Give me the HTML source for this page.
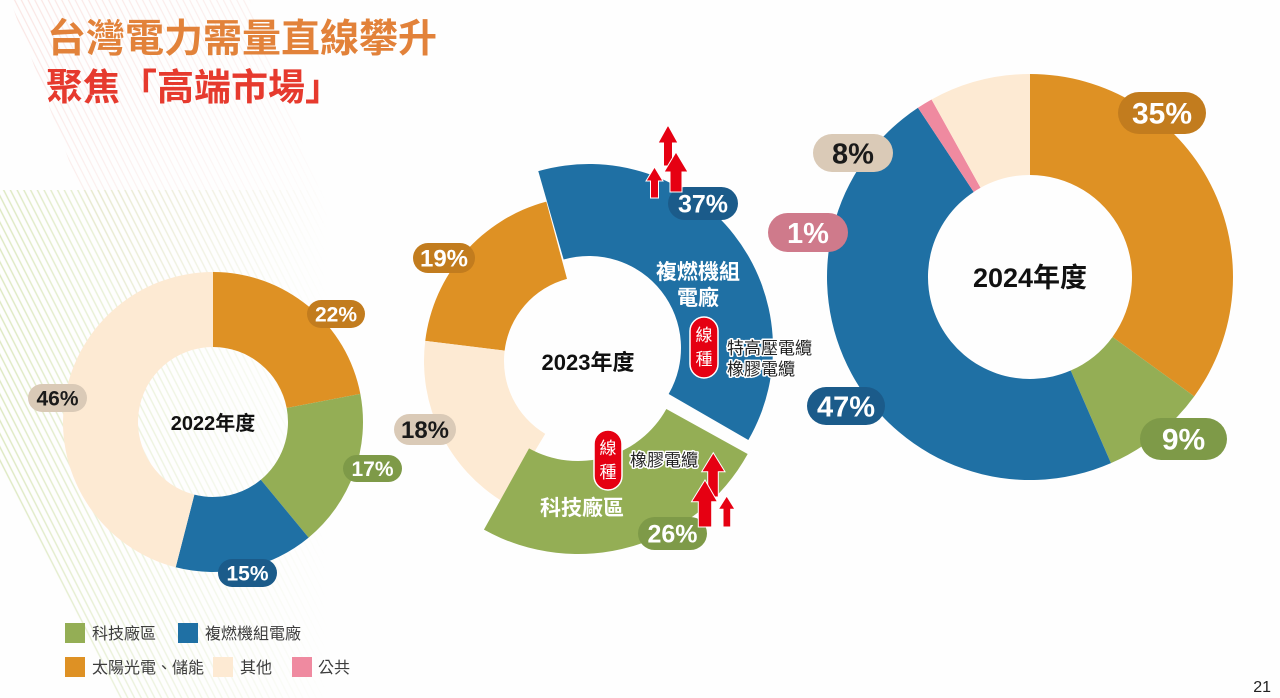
<!DOCTYPE html>
<html>
<head>
<meta charset="utf-8">
<style>
html,body{margin:0;padding:0;background:#ffffff;}
body{width:1280px;height:698px;overflow:hidden;}
svg{display:block;}
text{font-family:"Liberation Sans","Noto Sans CJK TC",sans-serif;}
</style>
</head>
<body>
<svg width="1280" height="698" viewBox="0 0 1280 698" xmlns="http://www.w3.org/2000/svg">
<defs>
  <pattern id="pg" width="6" height="6" patternUnits="userSpaceOnUse" patternTransform="rotate(-27)">
    <line x1="1" y1="-2" x2="1" y2="8" stroke="#d6e4b4" stroke-width="1.4"/>
  </pattern>
  <pattern id="pp" width="6" height="6" patternUnits="userSpaceOnUse" patternTransform="rotate(-27)">
    <line x1="1" y1="-2" x2="1" y2="8" stroke="#f8dcd8" stroke-width="1.2"/>
  </pattern>
  <linearGradient id="gfade" x1="0" y1="0" x2="1" y2="0">
    <stop offset="0" stop-color="#fff" stop-opacity="0.85"/>
    <stop offset="0.35" stop-color="#fff" stop-opacity="0.5"/>
    <stop offset="1" stop-color="#fff" stop-opacity="0"/>
  </linearGradient>
  <linearGradient id="pfade" x1="0" y1="0" x2="1" y2="0.6">
    <stop offset="0" stop-color="#fff" stop-opacity="0.75"/>
    <stop offset="0.5" stop-color="#fff" stop-opacity="0.4"/>
    <stop offset="1" stop-color="#fff" stop-opacity="0"/>
  </linearGradient>
  <mask id="mg"><polygon points="0,190 330,190 330,698 117,698 0,470" fill="url(#gfade)"/></mask>
  <mask id="mp"><polygon points="10,0 250,0 360,300 120,300" fill="url(#pfade)"/></mask>
</defs>

<!-- background stripes -->
<rect x="0" y="0" width="1280" height="698" fill="#fefefe"/>
<rect x="0" y="0" width="460" height="300" fill="url(#pp)" mask="url(#mp)"/>
<rect x="0" y="190" width="330" height="508" fill="url(#pg)" mask="url(#mg)"/>

<!-- Title -->
<text x="47" y="52" font-size="39" font-weight="bold" fill="#e2823a">台灣電力需量直線攀升</text>
<text x="46" y="100" font-size="37" font-weight="bold" fill="#e63a2e">聚焦「高端市場」</text>

<!-- ===== 2022 donut ===== -->
<path d="M213,272 A150,150 0 0 1 360.34,393.89 L286.67,407.95 A75,75 0 0 0 213,347 Z" fill="#de9124"/>
<path d="M360.34,393.89 A150,150 0 0 1 308.61,537.58 L260.81,479.79 A75,75 0 0 0 286.67,407.95 Z" fill="#94ae55"/>
<path d="M308.61,537.58 A150,150 0 0 1 175.70,567.29 L194.35,494.64 A75,75 0 0 0 260.81,479.79 Z" fill="#1f70a4"/>
<path d="M175.70,567.29 A150,150 0 0 1 213,272 L213,347 A75,75 0 0 0 194.35,494.64 Z" fill="#fdead3"/>
<text x="213" y="430" font-size="20" font-weight="bold" fill="#111" text-anchor="middle">2022年度</text>

<rect x="307" y="300" width="58" height="28" rx="14" fill="#c27c1e"/>
<text x="336" y="321.5" font-size="21" font-weight="bold" fill="#fff" text-anchor="middle">22%</text>
<rect x="343" y="455" width="59" height="27" rx="13.5" fill="#7e9a48"/>
<text x="372.5" y="476" font-size="21" font-weight="bold" fill="#fff" text-anchor="middle">17%</text>
<rect x="218" y="559" width="59" height="28" rx="14" fill="#1b5b8a"/>
<text x="247.5" y="580.5" font-size="21" font-weight="bold" fill="#fff" text-anchor="middle">15%</text>
<rect x="28" y="384" width="59" height="28" rx="14" fill="#dacab7"/>
<text x="57.5" y="405.5" font-size="21" font-weight="bold" fill="#1a1a1a" text-anchor="middle">46%</text>

<!-- ===== 2023 donut ===== -->
<path d="M425.23,340.89 A165,165 0 0 1 546.29,201.62 L567.0,278.90 A85,85 0 0 0 504.63,350.64 Z" fill="#de9124"/>
<path d="M504.02,502.43 A165,165 0 0 1 425.23,340.89 L504.63,350.64 A85,85 0 0 0 545.22,433.86 Z" fill="#fdead3"/>
<path d="M747.68,454.05 A194,194 0 0 1 483.95,529.68 L529.03,448.34 A101,101 0 0 0 666.34,408.97 Z" fill="#94ae55"/>
<path d="M538.28,171.13 A184,184 0 0 1 748.35,440 L668.67,394 A92,92 0 0 0 563.64,259.56 Z" fill="#1f70a4"/>
<text x="588" y="370" font-size="22" font-weight="bold" fill="#111" text-anchor="middle">2023年度</text>

<text x="698" y="279" font-size="21" font-weight="bold" fill="#fff" text-anchor="middle">複燃機組</text>
<text x="698" y="305" font-size="21" font-weight="bold" fill="#fff" text-anchor="middle">電廠</text>
<text x="582" y="515" font-size="21" font-weight="bold" fill="#fff" text-anchor="middle">科技廠區</text>

<!-- 線種 pills -->
<rect x="690" y="317" width="28" height="61" rx="14" fill="#e50012" stroke="#fff" stroke-width="1.5"/>
<text x="704" y="341" font-size="17" fill="#fff" text-anchor="middle">線</text>
<text x="704" y="365" font-size="17" fill="#fff" text-anchor="middle">種</text>
<rect x="594" y="430" width="28" height="60" rx="14" fill="#e50012" stroke="#fff" stroke-width="1.5"/>
<text x="608" y="454" font-size="17" fill="#fff" text-anchor="middle">線</text>
<text x="608" y="478" font-size="17" fill="#fff" text-anchor="middle">種</text>

<g font-size="17" fill="#222" stroke="#fff" stroke-width="3" paint-order="stroke" stroke-linejoin="round">
  <text x="727" y="354">特高壓電纜</text>
  <text x="727" y="375">橡膠電纜</text>
  <text x="630" y="466">橡膠電纜</text>
</g>

<rect x="413" y="243" width="62" height="30" rx="15" fill="#c27c1e"/>
<text x="444" y="266.5" font-size="24" font-weight="bold" fill="#fff" text-anchor="middle">19%</text>
<rect x="394" y="414" width="62" height="31" rx="15.5" fill="#dacab7"/>
<text x="425" y="438" font-size="24" font-weight="bold" fill="#1a1a1a" text-anchor="middle">18%</text>
<rect x="668" y="187" width="70" height="33" rx="16.5" fill="#1b5b8a"/>
<text x="703" y="212.5" font-size="25" font-weight="bold" fill="#fff" text-anchor="middle">37%</text>
<rect x="638" y="517" width="69" height="33" rx="16.5" fill="#7e9a48"/>
<text x="672.5" y="542.5" font-size="25" font-weight="bold" fill="#fff" text-anchor="middle">26%</text>

<!-- arrows -->
<g fill="#e60012" stroke="#fff" stroke-width="1" stroke-linejoin="miter">
  <polygon points="668,125 678,143 672.5,143 672.5,166 663.5,166 663.5,143 658,143"/>
  <polygon points="654.5,167 663,181 658.5,181 658.5,198 650.5,198 650.5,181 646,181"/>
  <polygon points="676,152 688,172 682,172 682,192 670,192 670,172 664,172"/>
  <polygon points="713.3,452.7 725,471.7 718.3,471.7 718.3,497 707.7,497 707.7,471.7 701.7,471.7"/>
  <polygon points="705,480 717.5,501.7 711.7,501.7 711.7,527 698.3,527 698.3,501.7 691.5,501.7"/>
  <polygon points="726.7,496 735,509.3 730.7,509.3 730.7,527 723,527 723,509.3 718.3,509.3"/>
</g>

<!-- ===== 2024 donut ===== -->
<path d="M1030,74 A203,203 0 0 1 1194.23,396.32 L1112.52,336.95 A102,102 0 0 0 1030,175 Z" fill="#de9124"/>
<path d="M1194.23,396.32 A203,203 0 0 1 1110.95,463.16 L1070.67,370.54 A102,102 0 0 0 1112.52,336.95 Z" fill="#94ae55"/>
<path d="M1110.95,463.16 A203,203 0 0 1 917.96,107.72 L973.70,191.94 A102,102 0 0 0 1070.67,370.54 Z" fill="#1f70a4"/>
<path d="M917.96,107.72 A203,203 0 0 1 931.58,99.45 L980.55,187.79 A102,102 0 0 0 973.70,191.94 Z" fill="#ef8aa0"/>
<path d="M931.58,99.45 A203,203 0 0 1 1030,74 L1030,175 A102,102 0 0 0 980.55,187.79 Z" fill="#fdead3"/>
<text x="1030" y="287" font-size="27" font-weight="bold" fill="#111" text-anchor="middle">2024年度</text>

<rect x="1118" y="92" width="88" height="42" rx="21" fill="#c27c1e"/>
<text x="1162" y="123.5" font-size="30" font-weight="bold" fill="#fff" text-anchor="middle">35%</text>
<rect x="813" y="134" width="80" height="38" rx="19" fill="#dacab7"/>
<text x="853" y="163.5" font-size="29" font-weight="bold" fill="#1a1a1a" text-anchor="middle">8%</text>
<rect x="768" y="213" width="80" height="39" rx="19.5" fill="#cf7a8b"/>
<text x="808" y="243" font-size="29" font-weight="bold" fill="#fff" text-anchor="middle">1%</text>
<rect x="807" y="387" width="78" height="38" rx="19" fill="#1b5b8a"/>
<text x="846" y="416.5" font-size="29" font-weight="bold" fill="#fff" text-anchor="middle">47%</text>
<rect x="1140" y="418" width="87" height="42" rx="21" fill="#7e9a48"/>
<text x="1183.5" y="449.5" font-size="30" font-weight="bold" fill="#fff" text-anchor="middle">9%</text>

<!-- legend -->
<rect x="65" y="623" width="20" height="20" fill="#94ae55"/>
<text x="92" y="639" font-size="16" fill="#3d3d3d">科技廠區</text>
<rect x="178" y="623" width="20" height="20" fill="#1f70a4"/>
<text x="205" y="639" font-size="16" fill="#3d3d3d">複燃機組電廠</text>
<rect x="65" y="657" width="20" height="20" fill="#de9124"/>
<text x="92" y="673" font-size="16" fill="#3d3d3d">太陽光電、儲能</text>
<rect x="213" y="657" width="20" height="20" fill="#fdead3"/>
<text x="240" y="673" font-size="16" fill="#3d3d3d">其他</text>
<rect x="292" y="657" width="20" height="20" fill="#ef8aa0"/>
<text x="318" y="673" font-size="16" fill="#3d3d3d">公共</text>

<!-- page number -->
<text x="1271" y="692" font-size="16" fill="#222" text-anchor="end">21</text>
</svg>
</body>
</html>
